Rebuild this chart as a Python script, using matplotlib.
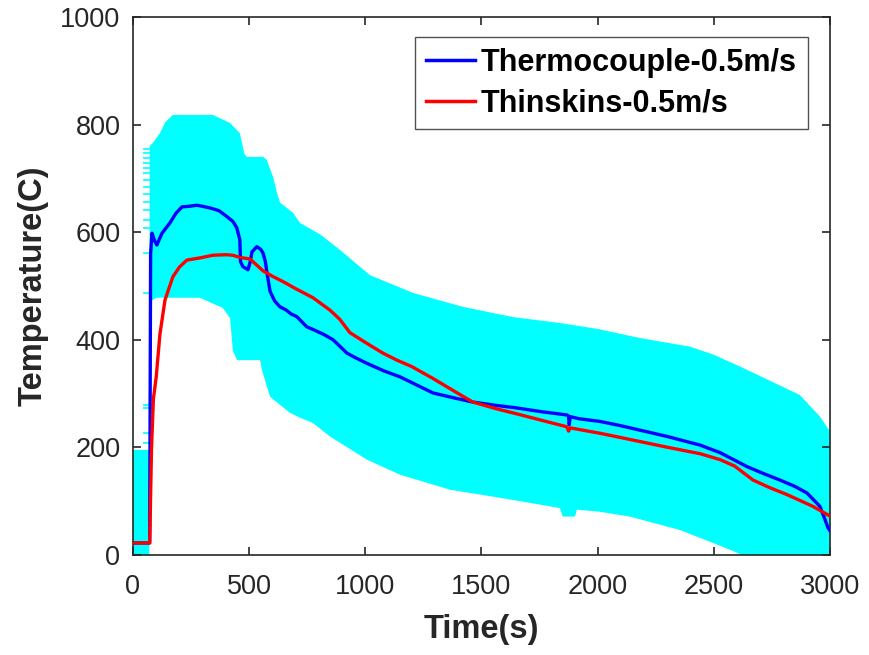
"""Thermocouple vs Thinskins temperature at 0.5 m/s."""
import matplotlib
matplotlib.use("Agg")
import matplotlib.pyplot as plt
import numpy as np

plt.rcParams["font.family"] = ["Liberation Sans", "DejaVu Sans"]

# error band (cyan)
band_upper_t = [0, 70, 72, 86, 116, 140, 172, 344, 418, 460, 480, 490, 560, 575, 603, 620, 633,
                689, 719, 805, 891, 1020, 1205, 1421, 1636, 1838, 2000, 2183, 2398, 2500, 2613,
                2750, 2871, 2957, 3000]
band_upper = [195, 195, 760, 766, 784, 805, 818, 818, 803, 784, 745, 740, 740, 735, 703, 673, 655,
              636, 617, 596, 567, 520, 487, 461, 442, 431, 420, 403, 387, 372, 350,
              322, 297, 257, 230]
band_lower_t = [0, 70, 72, 100, 232, 288, 387, 418, 430, 448, 547, 555, 590, 676, 719, 775, 848,
                1007, 1149, 1365, 1580, 1838, 1850, 1903, 1911, 2010, 2139, 2355, 2497, 2600,
                2800, 3000]
band_lower = [-150, -150, 470, 478, 478, 478, 459, 440, 380, 362, 362, 344, 294, 264, 255, 245, 220,
              177, 149, 121, 106, 87, 71, 71, 84, 80, 71, 46, 22, 4,
              -40, -90]
# error-bar caps visible left of the band during the fast rise
cap_levels = [755, 747, 738, 729, 719, 710, 697, 684, 671, 656, 641, 623, 608, 561, 487,
              279, 273, 227, 208, 191, 156, 56]

tc_time = [0, 72, 76, 82, 92, 103, 125, 159, 185, 211, 240, 275, 300, 331, 370, 404, 430, 447,
           460, 463, 473, 495, 505, 512, 533, 550, 560, 570, 577, 590, 610, 633, 660, 680, 705,
           748, 780, 820, 861, 890, 921, 960, 1007, 1080, 1149, 1220, 1291, 1380, 1463, 1560,
           1653, 1760, 1868, 1875, 1878, 1882, 1920, 2010, 2100, 2200, 2300, 2441, 2527, 2643,
           2720, 2785, 2850, 2901, 2935, 2957, 2975, 2992, 3000]
tc_temp = [22, 22, 560, 598, 585, 576, 598, 617, 635, 647, 648, 650, 648, 645, 640, 629, 620, 608,
           586, 545, 536, 530, 545, 563, 573, 568, 561, 545, 524, 490, 472, 461, 455, 448, 443,
           424, 418, 410, 400, 388, 375, 366, 356, 342, 331, 316, 301, 292, 284, 278,
           273, 266, 260, 258, 242, 257, 253, 248, 240, 230, 220, 204, 190, 164,
           150, 139, 127, 115, 100, 90, 70, 50, 45]

ts_time = [0, 72, 80, 88, 100, 116, 138, 172, 200, 232, 288, 344, 400, 430, 460, 504, 560, 600,
           646, 700, 775, 848, 890, 934, 1000, 1076, 1136, 1200, 1291, 1380, 1463, 1560, 1653,
           1760, 1868, 1875, 1882, 2010, 2100, 2200, 2300, 2441, 2527, 2590, 2669, 2740, 2815,
           2927, 3000]
ts_temp = [22, 22, 200, 290, 330, 410, 474, 517, 535, 548, 552, 557, 558, 557, 553, 550, 528, 518,
           508, 495, 478, 455, 438, 413, 395, 375, 362, 350, 328, 305, 284, 272, 262,
           250, 238, 230, 236, 226, 218, 209, 200, 188, 177, 165, 139, 125, 112,
           90, 72]

GRAY = (0.15, 0.15, 0.15)

fig = plt.figure(figsize=(8.69, 6.55), dpi=100)
ax = fig.add_axes([0.153, 0.153, 0.802, 0.821])

ax.fill(np.r_[band_upper_t, band_lower_t[::-1]], np.r_[band_upper, band_lower[::-1]],
        color="cyan", linewidth=0, zorder=1)
ax.hlines(cap_levels, 42, 80, color="cyan", linewidth=1.2, zorder=1)
ax.plot(tc_time, tc_temp, color="blue", linewidth=2.4, label="Thermocouple-0.5m/s", zorder=3)
ax.plot(ts_time, ts_temp, color="red", linewidth=2.4, label="Thinskins-0.5m/s", zorder=4)

ax.set_xlim(0, 3000)
ax.set_ylim(0, 1000)
ax.set_xticks(np.arange(0, 3001, 500))
ax.set_yticks(np.arange(0, 1001, 200))
ax.tick_params(direction="in", top=True, right=True, length=6, width=1.2,
               labelsize=19.5, colors=GRAY, labelcolor=GRAY, pad=9)
ax.tick_params(axis="x", pad=14)
for sp in ax.spines.values():
    sp.set_color(GRAY)
    sp.set_linewidth(1.2)

ax.set_xlabel("Time(s)", fontsize=23.5, fontweight="bold", color=GRAY, labelpad=10)
ax.set_ylabel("Temperature(C)", fontsize=23.5, fontweight="bold", color=GRAY, labelpad=8)

leg = ax.legend(loc="upper right", bbox_to_anchor=(0.968, 0.963),
                prop={"weight": "bold", "size": 22}, frameon=True, fancybox=False,
                handlelength=1.6, handletextpad=0.2, borderpad=0.35, labelspacing=0.35,
                borderaxespad=0)
leg.get_frame().set_edgecolor(GRAY)
leg.get_frame().set_linewidth(1.0)
for ln in leg.get_lines():
    ln.set_linewidth(2.5)

fig.savefig("out.png", dpi=100)
